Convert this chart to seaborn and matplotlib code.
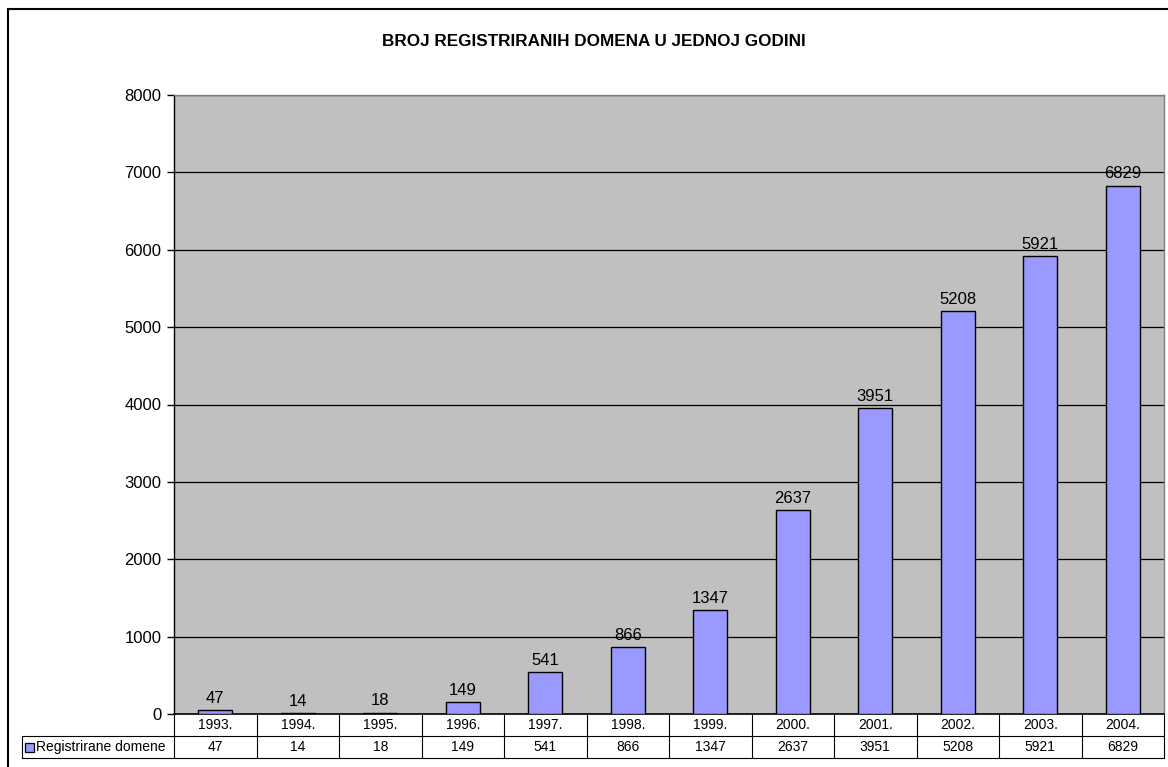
import matplotlib
matplotlib.use("Agg")
import matplotlib.pyplot as plt
from matplotlib.patches import Rectangle
from matplotlib import transforms
import seaborn as sns
import pandas as pd

# Data
years = ["1993.", "1994.", "1995.", "1996.", "1997.", "1998.", "1999.",
         "2000.", "2001.", "2002.", "2003.", "2004."]
domains = [47, 14, 18, 149, 541, 866, 1347, 2637, 3951, 5208, 5921, 6829]
series_name = "Registrirane domene"
chart_title = "BROJ REGISTRIRANIH DOMENA U JEDNOJ GODINI"
y_ticks = [0, 1000, 2000, 3000, 4000, 5000, 6000, 7000, 8000]

bar_color = "#9999FF"
plot_bg = "#C0C0C0"

sns.set_style("white")
plt.rcParams["font.family"] = ["Liberation Sans", "DejaVu Sans"]
plt.rcParams["text.color"] = "black"
plt.rcParams["ytick.color"] = "black"
plt.rcParams["ytick.labelcolor"] = "black"

df = pd.DataFrame({"year": years, "count": domains})

fig = plt.figure(figsize=(11.68, 7.67), dpi=100)
ax = fig.add_axes([174 / 1168, 1 - 714 / 767, 990 / 1168, 619 / 767])
ax.set_facecolor(plot_bg)

sns.barplot(data=df, x="year", y="count", color=bar_color, edgecolor="black",
            linewidth=1.0, width=0.41, saturation=1, ax=ax, zorder=3)
ax.bar_label(ax.containers[0], labels=[str(v) for v in domains], padding=3,
             fontsize=12, color="black", zorder=4)

ax.set_ylim(0, 8000)
ax.set_xlim(-0.5, len(years) - 0.5)
ax.set_yticks(y_ticks)
ax.set_yticklabels([str(t) for t in y_ticks], fontsize=12, color="black")
ax.tick_params(axis="y", direction="out", length=5, width=1, pad=4, left=True,
               colors="black")
ax.set_xticks([])
ax.set_xlabel("")
ax.set_ylabel("")
for t in y_ticks[1:]:
    ax.axhline(t, color="black", linewidth=0.9, zorder=1)
for side in ["top", "right"]:
    ax.spines[side].set_color("#808080")
    ax.spines[side].set_linewidth(1)
ax.spines["left"].set_color("black")
ax.spines["bottom"].set_color("black")
ax.spines["left"].set_linewidth(1)
ax.spines["bottom"].set_linewidth(1.2)

# Data table below the plot
row_h = 22 / 619
trans = transforms.blended_transform_factory(ax.transData, ax.transAxes)
label_left = (22 - 174) / 990
for i, (yr, v) in enumerate(zip(years, domains)):
    ax.text(i, -row_h / 2, yr, transform=trans, ha="center", va="center",
            fontsize=10, color="black", clip_on=False)
    ax.text(i, -row_h * 1.5, str(v), transform=trans, ha="center", va="center",
            fontsize=10, color="black", clip_on=False)
line_kw = dict(color="black", linewidth=0.8, clip_on=False)
for i in range(len(years) + 1):
    ax.plot([i - 0.5, i - 0.5], [0, -2 * row_h], transform=trans, **line_kw)
ax.plot([0, 1], [-row_h, -row_h], transform=ax.transAxes, **line_kw)
ax.plot([label_left, 1], [-2 * row_h, -2 * row_h], transform=ax.transAxes, **line_kw)
ax.plot([label_left, 0], [-row_h, -row_h], transform=ax.transAxes, **line_kw)
ax.plot([label_left, label_left], [-row_h, -2 * row_h], transform=ax.transAxes, **line_kw)
ax.add_patch(Rectangle((label_left + 3 / 990, -row_h * 1.5 - 4.5 / 619), 9 / 990, 9 / 619,
                       transform=ax.transAxes, facecolor=bar_color, edgecolor="black",
                       linewidth=0.9, clip_on=False))
ax.text(label_left + 14 / 990, -row_h * 1.5, series_name, transform=ax.transAxes,
        ha="left", va="center", fontsize=10, color="black", clip_on=False)

fig.text(594 / 1168, 1 - 42 / 767, chart_title, ha="center", va="center",
         fontsize=12.3, fontweight="bold", color="black")

# Outer chart border
fig.patches.append(Rectangle((8 / 1168, -0.1), 1.2, 1 - 9 / 767 + 0.1,
                             transform=fig.transFigure, fill=False,
                             edgecolor="black", linewidth=1.5))

fig.savefig("out.png", dpi=100, facecolor="white")
